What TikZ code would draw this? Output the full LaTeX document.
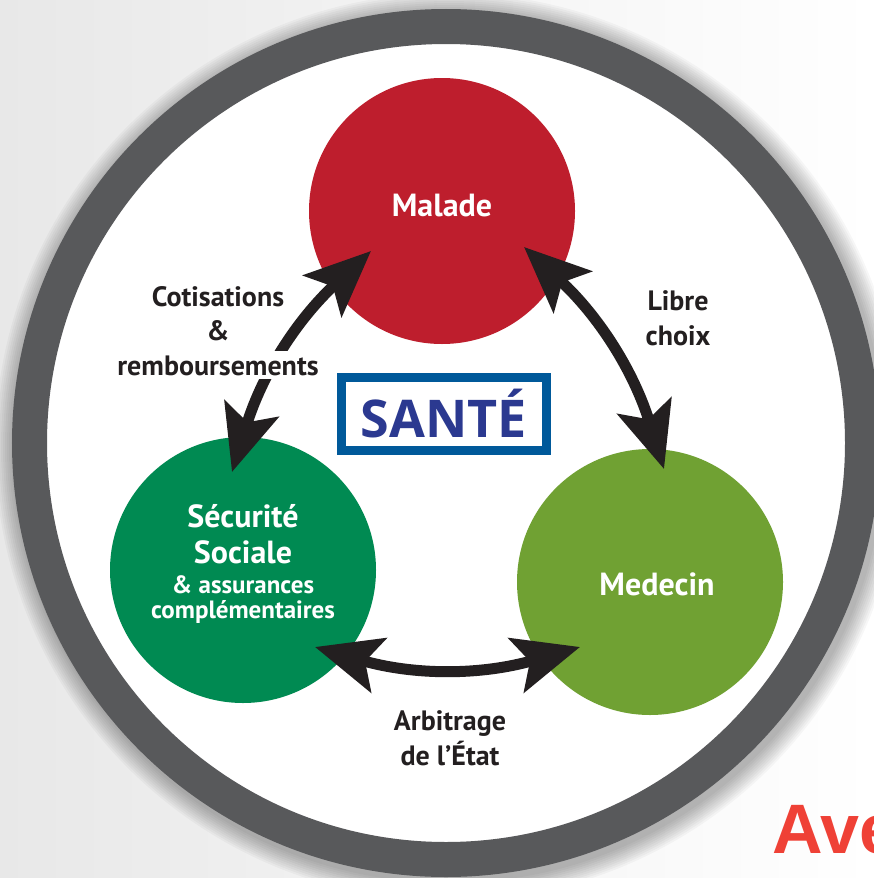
\documentclass[tikz,border=0pt]{standalone}
\usepackage{fontspec}
\setmainfont{PT Sans}
\newfontfamily\titlefont{Open Sans}
\newfontfamily\avefont{Liberation Sans}
\usepackage{tikz}
\usetikzlibrary{arrows.meta,calc}
\definecolor{ringgray}{HTML}{58595B}
\definecolor{linkblack}{HTML}{231F20}
\definecolor{maladered}{HTML}{BE1E2D}
\definecolor{secugreen}{HTML}{008A52}
\definecolor{medgreen}{HTML}{70A133}
\definecolor{santeblue}{HTML}{00599A}
\definecolor{santetext}{HTML}{2B3990}
\definecolor{avered}{HTML}{EF4136}
\tikzset{
    pole/.style={circle, minimum size=266pt, inner sep=0pt},
    pole text/.style={text=white, align=center, anchor=base, inner sep=0pt},
    link/.style={line width=11pt, color=linkblack,
        arrows={Stealth[length=66pt,width=56pt,inset=14pt]-Stealth[length=66pt,width=56pt,inset=14pt]}},
    link label/.style={text=linkblack, font=\bfseries\fontsize{28}{34.5}\selectfont,
        align=center, anchor=base, inner sep=0pt},
}

\begin{document}
\begin{tikzpicture}[x=1pt,y=-1pt]
\useasboundingbox (0,0) rectangle (874,878);
% background and ring
\shade[left color=black!9, right color=white] (0,0) rectangle (874,878);
\foreach \r in {2,4,...,20}
    \fill[black, opacity=0.03] (449,447) circle[radius={434+\r}];
\fill[white] (446,443) circle[radius=416];
\draw[ringgray, line width=35pt] (446,443) circle[radius=416.5];
% poles
\node[pole, fill=maladered] (malade) at (442,211) {};
\node[pole, fill=secugreen] (secu) at (243,570) {};
\node[pole, fill=medgreen] (medecin) at (650,582) {};
\node[pole text, font=\bfseries\fontsize{32}{34}\selectfont] (malade-t) at (442,216) {Malade};
\node[pole text, font=\bfseries\fontsize{32}{36}\selectfont] (secu-t) at (243,563) {Sécurité\\Sociale};
\node[pole text, font=\bfseries\fontsize{25}{25}\selectfont] (secu-s) at (243,618) {\& assurances\\complémentaires};
\node[pole text, font=\bfseries\fontsize{32}{34}\selectfont] (medecin-t) at (657,595) {Medecin};
% tips of the links
\coordinate (malade-l) at ($(malade)+(-71,40)$);
\coordinate (malade-r) at ($(malade)+(82,36)$);
\coordinate (secu-top) at ($(secu)+(-11,-98)$);
\coordinate (secu-r) at ($(secu)+(72,77)$);
\coordinate (medecin-top) at ($(medecin)+(14,-113)$);
\coordinate (medecin-l) at ($(medecin)+(-70,65)$);
\draw[link] (secu-top) to[bend left=15] (malade-l);
\draw[link] (malade-r) to[bend left=15] (medecin-top);
\draw[link] (secu-r) to[bend right=16] (medecin-l);
% labels
\node[link label] (cotis) at (218,375) {Cotisations\\\&\\{\setlength\fboxsep{4pt}\colorbox{white}{remboursements}}};
\node[link label] (choix) at (678,345) {Libre\\choix};
\node[link label] (etat) at (450,765) {Arbitrage\\de l’État};
% centre box
\node[draw=santeblue, line width=9pt, fill=white, minimum width=205pt, minimum height=73pt,
    text=santetext, font=\titlefont\bfseries\fontsize{52}{52}\selectfont] (sante) at (444,414) {SANTÉ};
\node[anchor=base west, inner sep=0pt, text=avered, font=\avefont\bfseries\fontsize{70}{70}\selectfont] (ave) at (772,853) {Ave};
\end{tikzpicture}
\end{document}
